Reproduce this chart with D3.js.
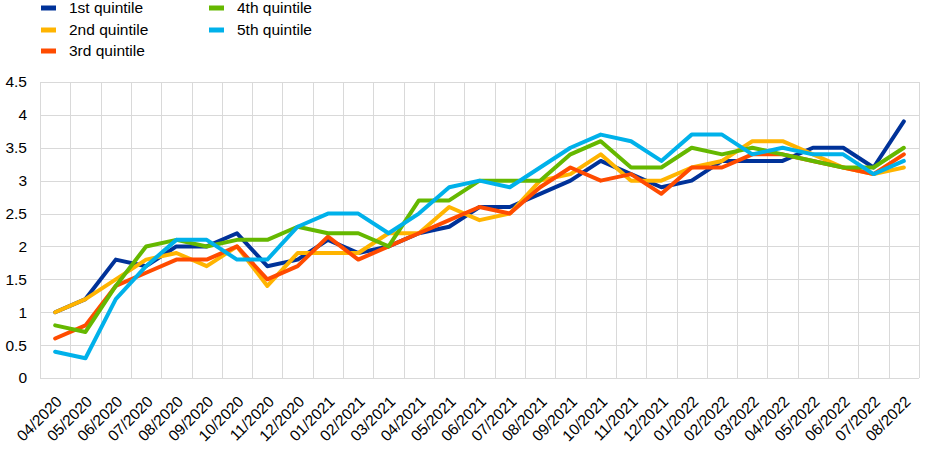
<!DOCTYPE html>
<html><head><meta charset="utf-8">
<script src="https://cdn.jsdelivr.net/npm/d3@7"></script>
<style>body{margin:0;background:#fff}svg{display:block}text{font-family:Arial,"Liberation Sans",sans-serif;fill:#000}</style>
</head><body><svg id="c" width="948" height="452"></svg>
<script>
const categories = ["04/2020","05/2020","06/2020","07/2020","08/2020","09/2020","10/2020","11/2020","12/2020","01/2021","02/2021","03/2021","04/2021","05/2021","06/2021","07/2021","08/2021","09/2021","10/2021","11/2021","12/2021","01/2022","02/2022","03/2022","04/2022","05/2022","06/2022","07/2022","08/2022"];
const q1 = [1.0,1.2,1.8,1.7,2.0,2.0,2.2,1.7,1.8,2.1,1.9,2.0,2.2,2.3,2.6,2.6,2.8,3.0,3.3,3.1,2.9,3.0,3.3,3.3,3.3,3.5,3.5,3.2,3.9];
const q2 = [1.0,1.2,1.5,1.8,1.9,1.7,2.0,1.4,1.9,1.9,1.9,2.2,2.2,2.6,2.4,2.5,3.0,3.1,3.4,3.0,3.0,3.2,3.3,3.6,3.6,3.4,3.2,3.1,3.2];
const q3 = [0.6,0.8,1.4,1.6,1.8,1.8,2.0,1.5,1.7,2.15,1.8,2.0,2.2,2.4,2.6,2.5,2.9,3.2,3.0,3.1,2.8,3.2,3.2,3.4,3.4,3.3,3.2,3.1,3.4];
const q4 = [0.8,0.7,1.4,2.0,2.1,2.0,2.1,2.1,2.3,2.2,2.2,2.0,2.7,2.7,3.0,3.0,3.0,3.4,3.6,3.2,3.2,3.5,3.4,3.5,3.4,3.3,3.2,3.2,3.5];
const q5 = [0.4,0.3,1.2,1.7,2.1,2.1,1.8,1.8,2.3,2.5,2.5,2.2,2.5,2.9,3.0,2.9,3.2,3.5,3.7,3.6,3.3,3.7,3.7,3.4,3.5,3.4,3.4,3.1,3.3];
const seriesNames = ["1st quintile","2nd quintile","3rd quintile","4th quintile","5th quintile"];
const seriesColors = ["#003299","#ffb400","#ff4b00","#65b800","#00b1ea"];
const yTicks = [0,0.5,1,1.5,2,2.5,3,3.5,4,4.5];

const series = [q1,q2,q3,q4,q5];
const svg = d3.select("#c");
const L=40, R=919, T=82, B=378, FS=15.5;
const x = d3.scaleBand().domain(categories).range([L,R]);
const y = d3.scaleLinear().domain([0,4.5]).range([B,T]);
const cx = d => x(d)+x.bandwidth()/2;

const g = svg.append("g");
g.selectAll(".hg").data(yTicks).enter().append("line")
 .attr("x1",L).attr("x2",R).attr("y1",d=>Math.round(y(d))+0.5).attr("y2",d=>Math.round(y(d))+0.5)
 .attr("stroke","#d9d9d9").attr("stroke-width",1);
const vb = categories.map(c=>x(c)).concat([R]);
g.selectAll(".vg").data(vb).enter().append("line")
 .attr("x1",d=>Math.round(d)+0.5).attr("x2",d=>Math.round(d)+0.5).attr("y1",T).attr("y2",B)
 .attr("stroke","#d9d9d9").attr("stroke-width",1);

g.selectAll(".yl").data(yTicks).enter().append("text")
 .attr("x",27).attr("y",d=>y(d)).attr("dy","0.35em").attr("text-anchor","end")
 .attr("font-size",FS).text(d=>String(d));

g.selectAll(".xl").data(categories).enter().append("text")
 .attr("transform",d=>`translate(${cx(d)},${B+17}) rotate(-45)`)
 .attr("text-anchor","end").attr("dy","0.7em").attr("font-size",FS).text(d=>d);

const line = d3.line().x((d,i)=>cx(categories[i])).y(d=>y(d));
series.forEach((s,k)=>{
  svg.append("path").attr("d",line(s)).attr("fill","none")
   .attr("stroke",seriesColors[k]).attr("stroke-width",4)
   .attr("stroke-linejoin","round").attr("stroke-linecap","round");
});

const legPos = [[40,8],[40,30],[40,51],[208,8],[208,30]];
seriesNames.forEach((n,k)=>{
  const [lx,ly]=legPos[k];
  svg.append("line").attr("x1",lx+1).attr("x2",lx+16).attr("y1",ly).attr("y2",ly)
   .attr("stroke",seriesColors[k]).attr("stroke-width",5);
  svg.append("text").attr("x",lx+29).attr("y",ly).attr("dy","0.35em").attr("font-size",FS).text(n);
});
</script></body></html>
